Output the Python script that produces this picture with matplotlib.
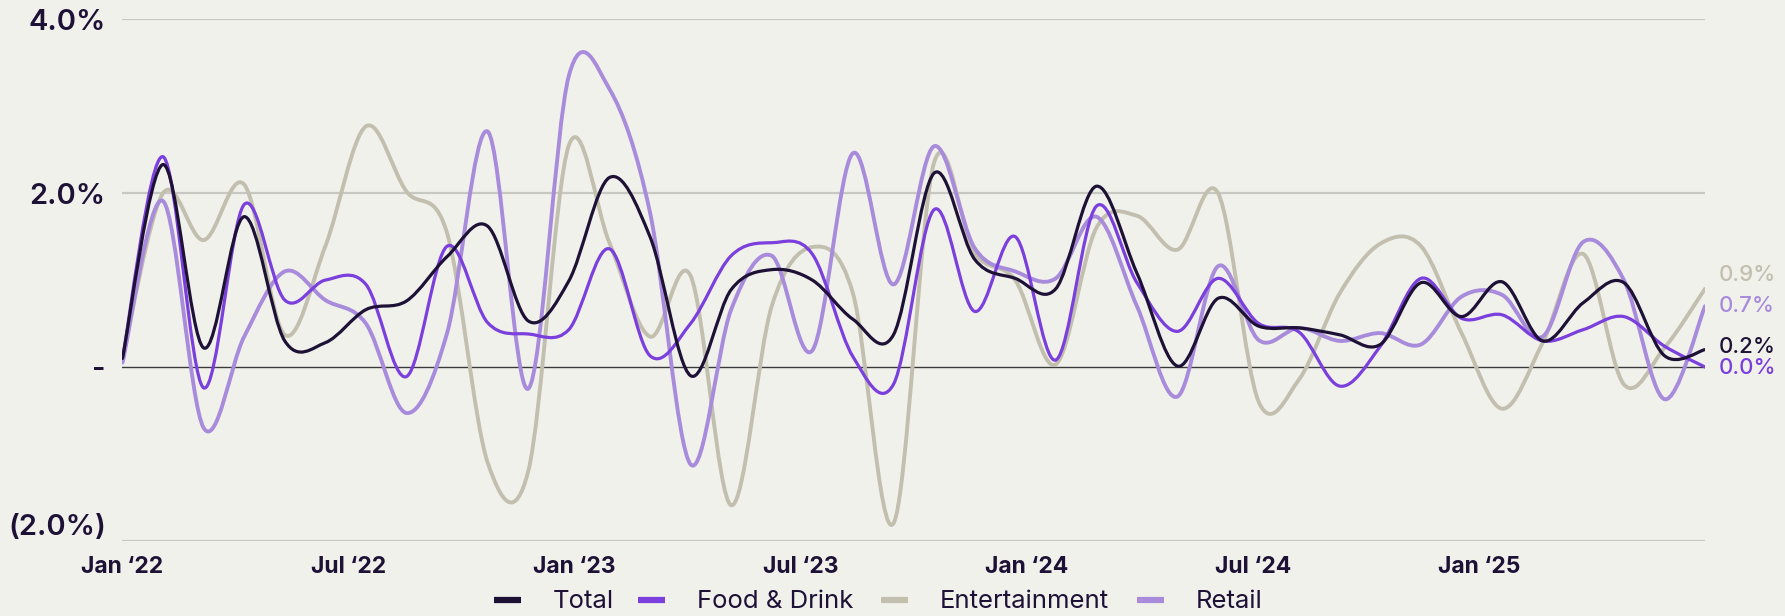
import matplotlib
matplotlib.use("Agg")
import matplotlib.pyplot as plt
from matplotlib.path import Path
from matplotlib.patches import PathPatch
from matplotlib.lines import Line2D

plt.rcParams['font.family'] = ['Inter', 'DejaVu Sans']

# 40 evenly spaced periods, Jan '22 .. Jul '25 (values in %)
total = [0.1, 2.33, 0.22, 1.73, 0.3, 0.28, 0.66, 0.76, 1.27, 1.62,
         0.53, 0.99, 2.18, 1.5, -0.1, 0.89, 1.12, 1.0, 0.55, 0.37,
         2.23, 1.24, 1.02, 0.9, 2.08, 1.08, 0.01, 0.79, 0.47, 0.45,
         0.37, 0.26, 0.97, 0.58, 0.98, 0.3, 0.74, 0.97, 0.13, 0.2]
food = [0.1, 2.42, -0.24, 1.87, 0.77, 1.0, 0.95, -0.11, 1.39, 0.51,
        0.38, 0.43, 1.36, 0.13, 0.5, 1.28, 1.43, 1.3, 0.12, -0.2,
        1.81, 0.64, 1.5, 0.08, 1.85, 0.97, 0.41, 1.02, 0.5, 0.4,
        -0.22, 0.24, 1.02, 0.56, 0.6, 0.3, 0.43, 0.58, 0.24, 0.0]
entertainment = [0.1, 2.0, 1.46, 2.1, 0.37, 1.39, 2.77, 2.02, 1.54, -1.1,
                 -1.2, 2.55, 1.43, 0.35, 1.05, -1.59, 0.7, 1.38, 0.85, -1.8,
                 2.35, 1.31, 1.0, 0.03, 1.6, 1.74, 1.35, 2.0, -0.4, -0.14,
                 0.85, 1.42, 1.39, 0.39, -0.48, 0.28, 1.3, -0.2, 0.22, 0.9]
retail = [0.05, 1.91, -0.7, 0.35, 1.1, 0.77, 0.5, -0.53, 0.39, 2.71,
          -0.25, 3.35, 3.2, 1.78, -1.12, 0.66, 1.28, 0.19, 2.46, 0.95,
          2.54, 1.37, 1.1, 1.02, 1.73, 0.7, -0.34, 1.16, 0.31, 0.45,
          0.3, 0.39, 0.26, 0.81, 0.83, 0.35, 1.44, 1.0, -0.37, 0.7]

tick_months = [0, 6, 12, 18, 24, 30, 36]
tick_labels = ["Jan \u201822", "Jul \u201822", "Jan \u201823", "Jul \u201823",
               "Jan \u201824", "Jul \u201824", "Jan \u201825"]
y_ticks = [-2, 0, 2, 4]
y_labels = ["(2.0%)", "-", "2.0%", "4.0%"]

names = ["Total", "Food & Drink", "Entertainment", "Retail"]
colors = ["#1e1136", "#7a3fdc", "#c2bfae", "#a88bdb"]
widths = [2.3, 2.3, 2.8, 2.8]
zorders = [6, 5, 3, 4]
label_nudge = [2, -1, 10, 0]   # points, to keep end labels apart

BG = "#f1f1ec"
TXT = "#1e1136"


def spline_path(xs, ys):
    # Catmull-Rom through every point, as cubic bezier segments
    verts = [(xs[0], ys[0])]
    codes = [Path.MOVETO]
    n = len(xs)
    for i in range(n - 1):
        p0 = i - 1 if i > 0 else i
        p3 = i + 2 if i + 2 < n else i + 1
        c1 = (xs[i] + (xs[i + 1] - xs[p0]) / 6, ys[i] + (ys[i + 1] - ys[p0]) / 6)
        c2 = (xs[i + 1] - (xs[p3] - xs[i]) / 6, ys[i + 1] - (ys[p3] - ys[i]) / 6)
        verts += [c1, c2, (xs[i + 1], ys[i + 1])]
        codes += [Path.CURVE4] * 3
    return Path(verts, codes)


fig = plt.figure(figsize=(17.85, 6.16), dpi=100, facecolor=BG)
ax = fig.add_axes([0.0686, 0.1221, 0.8866, 0.8464], facecolor=BG)

series = [total, food, entertainment, retail]
x = list(range(len(total)))
for vals, c, lw, z in zip(series, colors, widths, zorders):
    ax.add_patch(PathPatch(spline_path(x, vals), fill=False, ec=c, lw=lw,
                           zorder=z, capstyle='round', joinstyle='round'))

ax.set_xlim(0, len(total) - 1)
ax.set_ylim(-2, 4)

for yv in (-2, 2, 4):
    ax.axhline(yv, color="#c8c8c3", lw=1.6, zorder=1)
ax.axhline(0, color="#3a3a3a", lw=1.0, zorder=2)

for s in ax.spines.values():
    s.set_visible(False)

# months -> period index (40 periods over 42 months)
ax.set_xticks([m * (len(total) - 1) / 42 for m in tick_months])
ax.set_xticklabels(tick_labels, fontsize=16.5, fontweight='bold', color=TXT)
ax.set_yticks(y_ticks)
ax.set_yticklabels(y_labels, fontsize=21, fontweight='semibold', color=TXT)
ax.tick_params(axis='x', length=0, pad=11)
ax.tick_params(axis='y', length=0, pad=12)
ax.get_yticklabels()[0].set_va('bottom')

# end-of-line value labels
for vals, c, dy in zip(series, colors, label_nudge):
    ax.annotate(f"{vals[-1]:.1f}%", (x[-1], vals[-1]), xytext=(10, dy),
                textcoords='offset points', va='center', ha='left',
                fontsize=16, fontweight='medium', color=c, annotation_clip=False)

# legend entries placed one by one to match the spacing
leg_x = [494, 638, 881, 1137]
for name, c, lx in zip(names, colors, leg_x):
    h = Line2D([], [], color=c, lw=4.5, solid_capstyle='butt')
    fig.legend([h], [name], loc='center left',
               bbox_to_anchor=(lx / 1785, 1 - 602 / 616), frameon=False,
               borderpad=0, borderaxespad=0, handlelength=1.05,
               handletextpad=1.25, fontsize=18.5, labelcolor=TXT)

fig.savefig("out.png", dpi=100, facecolor=BG)
